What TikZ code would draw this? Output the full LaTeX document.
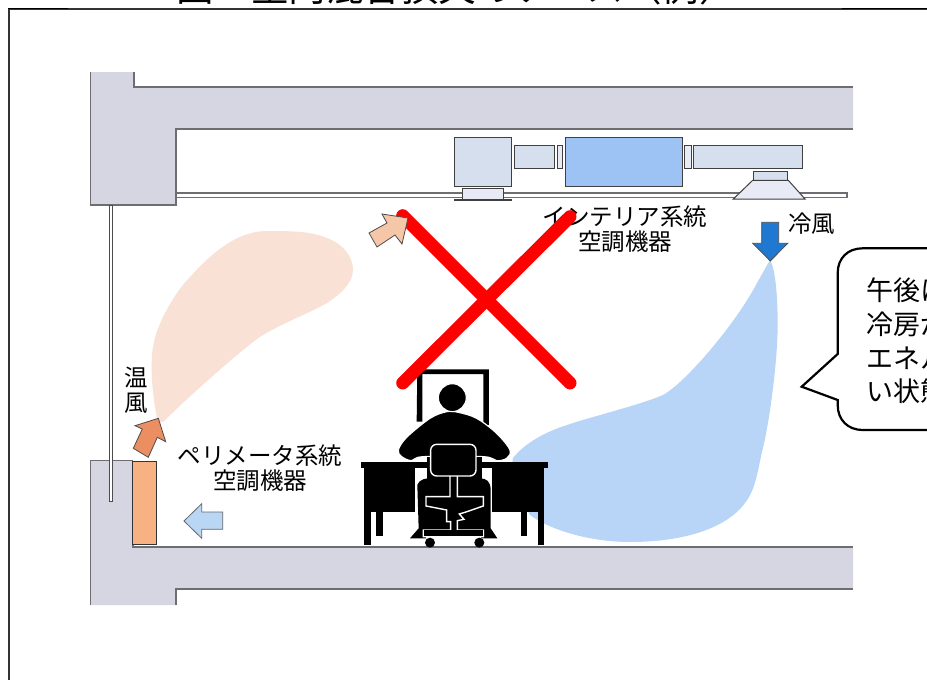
\documentclass[tikz,border=0pt]{standalone}
\usepackage{fontspec}
\setmainfont{Noto Sans CJK JP}
\definecolor{wallc}{HTML}{D6D5E2}
\definecolor{edgec}{HTML}{6E6E72}
\definecolor{ductc}{HTML}{D6DFEE}
\definecolor{palec}{HTML}{E8EAF5}
\definecolor{unitc}{HTML}{9DC3F5}
\definecolor{coldc}{HTML}{B8D5F8}
\definecolor{warmc}{HTML}{F9E1D5}
\definecolor{coldarrow}{HTML}{1F78D1}
\definecolor{heater}{HTML}{F8B183}
\definecolor{warmarrow}{HTML}{EB8F63}
\definecolor{softarrow}{HTML}{F6C6A8}
\definecolor{bluearrow}{HTML}{B9D6F5}
\tikzset{
  lbl/.style={inner sep=0pt,font=\fontsize{23.5}{25}\selectfont,align=center},
  wallline/.style={draw=edgec,line width=1.3pt},
  equip/.style={draw=black!75,line width=1pt,fill=ductc},
  equippale/.style={draw=black!75,line width=1pt,fill=palec},
  whiteline/.style={draw=white,line width=1.4pt},
  arrowshape/.style={draw=black!70,line width=0.8pt,line join=miter},
  crossbar/.style={red,line width=13pt,line cap=round}
}
\begin{document}
\begin{tikzpicture}[x=1pt,y=-1pt]
\useasboundingbox (0,0) rectangle (927,680);
\clip (0,0) rectangle (927,680);
\fill[white] (0,0) rectangle (927,680);

% title and page frame
\node[anchor=base west,inner sep=0pt,font=\fontsize{37.5}{38}\selectfont] (title) at (176,1.5) {図　室内混合損失のケース（例）};
\draw[black!80,line width=1.9pt] (8.6,680) -- (8.6,9.3) -- (927,9.3);
\draw[black,line width=1pt] (8,8.3) -- (68,8.3);
\draw[black,line width=1pt] (842,8.3) -- (927,8.3);

% air plumes
\fill[warmc] (158,423) .. controls (152,395) and (150,365) .. (153,347) .. controls (156,325) and (175,292) .. (190,277) .. controls (210,255) and (235,232) .. (265,231) .. controls (290,231) and (310,231) .. (327,238) .. controls (345,245) and (353,258) .. (353,270) .. controls (353,285) and (335,298) .. (327,303) .. controls (310,313) and (270,328) .. (253,342) .. controls (230,360) and (185,400) .. (163,422) -- cycle;
\fill[coldc] (770,260) .. controls (776,270) and (777.7,300) .. (777.7,327) .. controls (777,370) and (768,430) .. (761.7,453) .. controls (757,475) and (755,490) .. (745,503) .. controls (725,530) and (680,542) .. (630,542) .. controls (590,542) and (550,530) .. (530,515) -- (510,480) -- (513,458) .. controls (525,443) and (545,432) .. (567,425) .. controls (590,417) and (640,405) .. (663,395) .. controls (685,383) and (735,325) .. (757,283) -- cycle;

% upper slab
\fill[wallc] (90.5,72) -- (90.5,205) -- (176,205) -- (176,129) -- (853,129) -- (853,87) -- (134,87) -- (134,72) -- cycle;
\draw[wallline] (134,72) -- (134,87) -- (853,87);
\draw[wallline] (853,129) -- (176,129) -- (176,205) -- (90.5,205) -- (90.5,72);
% lower slab
\fill[wallc] (90.5,460.5) -- (133,460.5) -- (133,547) -- (853,547) -- (853,589) -- (176,589) -- (176,605) -- (90.5,605) -- cycle;
\draw[wallline] (90.5,605) -- (90.5,460.5) -- (133,460.5);
\draw[wallline] (133,460.5) -- (133,547) -- (853,547);
\draw[wallline] (853,589) -- (176,589) -- (176,605);
% window
\draw[draw=black!70,fill=white,line width=0.8pt] (109.7,205) rectangle (112.8,501.5);
% ceiling panel
\draw[draw=edgec,fill=white,line width=1.2pt] (176,193) rectangle (847,197.3);

% interior equipment
\fill[black!75] (454.3,199) rectangle (511.7,201);
\draw[equip] (454.3,137.3) rectangle (511.7,186);
\draw[equippale] (462.7,188.3) rectangle (503.3,199);
\draw[equip] (514,145.3) rectangle (554.7,168.3);
\draw[equippale] (557.3,145.3) rectangle (562.7,168.3);
\draw[equip,fill=unitc] (565.3,137.3) rectangle (682.3,186);
\draw[equippale] (684.3,145.3) rectangle (691,168.3);
\draw[equip] (693,145.3) rectangle (802.3,168.3);
\draw[equip] (753.3,171.3) rectangle (787.7,180.3);
\draw[equippale] (752.7,180.3) -- (788.3,180.3) -- (805,199) -- (733.3,199) -- cycle;

% labels
\node[lbl] (interior) at (625,229) {インテリア系統\\空調機器};
\node[lbl] (cold) at (811.5,224) {冷風};
\node[lbl] (warm) at (136.7,390) {温\\風};
\node[lbl] (perimeter) at (260,468.5) {ペリメータ系統\\空調機器};

% red cross
\draw[crossbar] (402.7,215.7) -- (570,383);

% arrows and heater
\draw[arrowshape,fill=coldarrow] (761.7,222.3) -- (778.7,222.3) -- (778.7,243.3) -- (787.7,243.3) -- (770.3,261) -- (752.7,243.3) -- (761.7,243.3) -- cycle;
\draw[arrowshape,fill=softarrow] (369,233) -- (387,223) -- (382,214) -- (408,218) -- (402,244) -- (395,235) -- (377,247) -- cycle;
\draw[black!80,line width=1pt,fill=heater] (132.7,461) rectangle (156.7,544);
\draw[arrowshape,fill=warmarrow] (133.3,448.3) -- (142.3,429) -- (135,425.7) -- (158.3,418.3) -- (165.7,441.7) -- (157.3,437.3) -- (148.3,457.3) -- cycle;
\draw[arrowshape,draw=black!60,fill=bluearrow] (184,521) -- (201.7,503.7) -- (201.7,512) -- (222.7,512) -- (222.7,529.3) -- (201.7,529.3) -- (201.7,538.3) -- cycle;

% person at desk
\begin{scope}[shift={(340pt,-350pt)},x=0.3333pt,y=-0.3333pt]
  % tall backrest frame
  \fill[black] (230,215) -- (232,58) -- (447,58) -- (447,225) -- (430,225) -- (430,72) -- (247,72) -- (247,215) -- cycle;
  % desk
  \fill[black] (62,335) rectangle (623,355);
  \fill[black] (72,355) rectangle (224,485);
  \fill[black] (455,355) rectangle (612,485);
  \fill[black] (72,485) rectangle (92,585);
  \fill[black] (108,485) rectangle (130,558);
  \fill[black] (543,485) rectangle (562,558);
  \fill[black] (593,485) rectangle (612,585);
  % legs and shoes
  \fill[white] (224,355) rectangle (455,485);
  \fill[black] (232,405) .. controls (240,385) and (262,385) .. (270,385) -- (420,385) .. controls (440,385) and (452,395) .. (452,420) -- (452,535) -- (472,565) -- (440,565) -- (240,565) -- (210,565) -- (236,535) -- cycle;
  % torso and arms
  \fill[black,draw=white,line width=1.2pt] plot[smooth cycle,tension=0.55] coordinates {(175,300) (200,262) (270,205) (320,185) (355,187) (410,205) (470,250) (510,300) (500,325) (470,332) (430,320) (250,320) (215,332) (185,320)};
  \fill[black] (262,320) rectangle (425,390);
  % head
  \fill[black,draw=white,line width=1.2pt] (337,143) circle (42);
  % chair back, stem, seat and base in white lines
  \draw[whiteline,fill=black,rounded corners=6pt] (272,283) rectangle (408,378);
  \draw[whiteline] (330,378) -- (330,440) -- (258,440) -- (258,468) -- (320,480) -- (320,515) -- (332,515) -- (332,540) -- (250,540) -- (250,560) -- (430,560) -- (430,540) -- (352,540) -- (352,512) -- (372,508) -- (358,492) -- (378,486) -- (430,468) -- (430,440) -- (352,440) -- (352,378);
  \fill[black] (252,541) rectangle (428,559);
  \fill[white] (258,560) rectangle (424,566);
  \fill[black] (270,578) circle (15);
  \fill[black] (418,578) circle (15);
\end{scope}

% second bar of the cross, over the backrest
\draw[crossbar] (402.7,383) -- (570,216.7);

% callout
\draw[black,line width=2.2pt,fill=white,line join=miter] (960,248.3) -- (862.7,248.3) .. controls (848,248.3) and (837.7,258) .. (837.7,273) -- (837.7,354) -- (801.7,386.7) -- (837.7,400) -- (837.7,405) .. controls (837.7,420) and (848,430) .. (862.7,430) -- (960,430);
\node[anchor=north west,inner sep=0pt,font=\fontsize{27}{33.6}\selectfont,align=left] (note) at (866,278) {午後に\\冷房が\\エネル\\い状態};
\end{tikzpicture}
\end{document}
